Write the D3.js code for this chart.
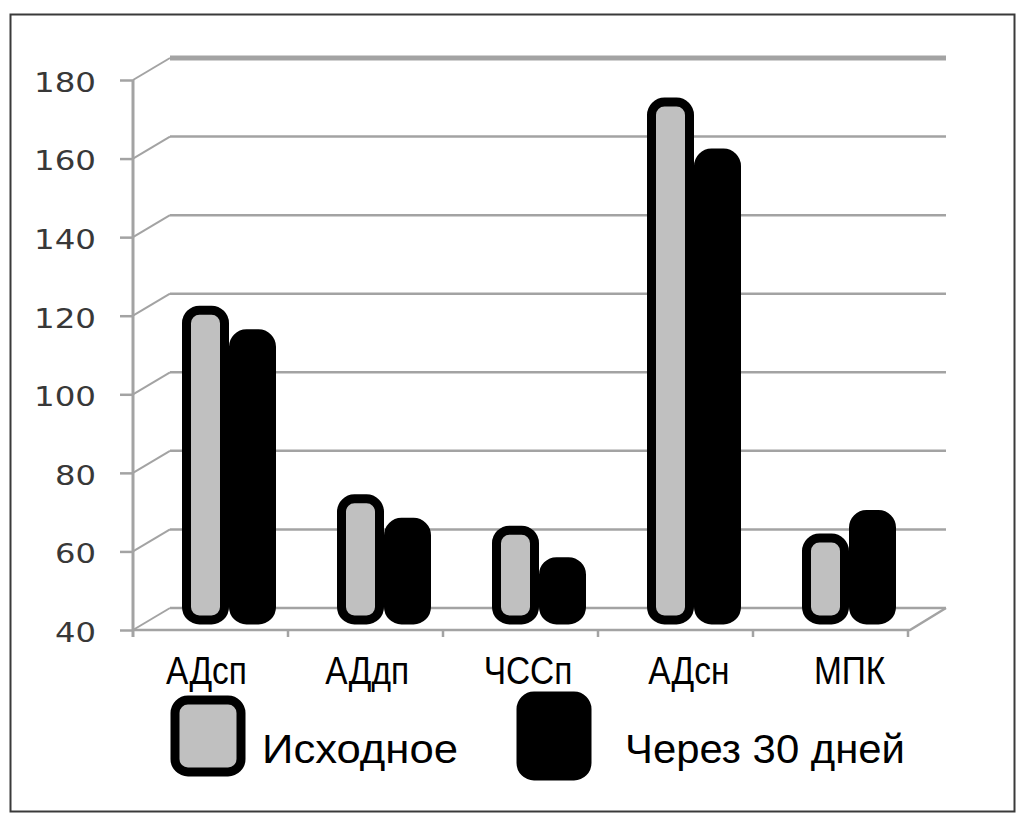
<!DOCTYPE html>
<html>
<head>
<meta charset="utf-8">
<script src="https://cdn.jsdelivr.net/npm/d3@7"></script>
<style>
  html, body { margin: 0; padding: 0; background: #fff; }
  svg { display: block; }
</style>
</head>
<body>
<svg id="chart" width="1026" height="823"></svg>
<script>
// Chart data
const categories = ["АДсп", "АДдп", "ЧССп", "АДсн", "МПК"];
const seriesNames = ["Исходное", "Через 30 дней"];
const initialValues = [120, 72, 64, 173, 62];
const after30Values = [114, 66, 56, 160, 68];
const yTickValues = [40, 60, 80, 100, 120, 140, 160, 180];

const svg = d3.select("#chart");

// Outer frame
svg.append("rect")
  .attr("x", 10.5).attr("y", 14.5)
  .attr("width", 1004).attr("height", 797)
  .attr("fill", "#fff").attr("stroke", "#3a3a3a").attr("stroke-width", 2);

// Geometry of the pseudo-3D plot box
const left = 133, right = 908, floorY = 630, topY = 80;
const depthX = 37, depthY = -22;      // offset of the back wall
const barShiftY = -10;                // bars stand mid-depth

const y = d3.scaleLinear().domain([40, 180]).range([floorY, topY]);
const x = d3.scaleBand().domain(categories).range([left, right]);
const x1 = d3.scaleBand().domain(seriesNames).range([49, 143]);
const xLabel = d3.scaleBand().domain(categories).range([126, 930]);

const gridColor = "#a3a3a3";

// Gridlines: slanted side segment then horizontal back-wall line
const grid = svg.append("g");
yTickValues.forEach(v => {
  const yf = y(v);
  const yb = yf + depthY;
  grid.append("path")
    .attr("d", `M${left},${yf} L${left + depthX},${yb}`)
    .attr("fill", "none").attr("stroke", gridColor).attr("stroke-width", 2);
  grid.append("path")
    .attr("d", `M${left + depthX},${yb} L${right + depthX + 1},${yb}`)
    .attr("fill", "none").attr("stroke", gridColor)
    .attr("stroke-width", v === 180 ? 5 : 2.5);
});

// Floor front edge and right side edge
grid.append("path")
  .attr("d", `M${left},${floorY} L${right + 2},${floorY} L${right + depthX + 1},${floorY + depthY}`)
  .attr("fill", "none").attr("stroke", gridColor).attr("stroke-width", 2.5);

// Category boundary ticks on the floor edge
categories.forEach(c => {
  const bx = x(c) + x.bandwidth();
  grid.append("line")
    .attr("x1", bx).attr("x2", bx)
    .attr("y1", floorY).attr("y2", floorY + 7)
    .attr("stroke", gridColor).attr("stroke-width", 2.5);
});

// Value axis
const yAxis = d3.axisLeft(y).tickValues(yTickValues).tickSize(13).tickPadding(24);
const gy = svg.append("g").attr("transform", `translate(${left},0)`).call(yAxis);
gy.select(".domain").attr("stroke", gridColor).attr("stroke-width", 3).attr("d", `M0,${topY}V${floorY + 7}`);
gy.selectAll(".tick line").attr("stroke", gridColor).attr("stroke-width", 2.5);
gy.selectAll(".tick text")
  .attr("font-family", "DejaVu Sans, Verdana, sans-serif")
  .attr("font-size", 27)
  .attr("fill", "#383838")
  .attr("dy", "0.42em")
  .attr("textLength", d => String(d).length === 3 ? 62 : 41)
  .attr("lengthAdjust", "spacingAndGlyphs");

// Bars
const series = [
  { name: seriesNames[0], values: initialValues, fill: "#c0c0c0" },
  { name: seriesNames[1], values: after30Values, fill: "#000" }
];
const strokeW = 9;
const barsG = svg.append("g");
series.forEach(s => {
  barsG.selectAll(null)
    .data(categories.map((c, i) => ({ c, v: s.values[i] })))
    .join("rect")
    .attr("x", d => x(d.c) + x1(s.name) + strokeW / 2)
    .attr("width", x1.bandwidth() - strokeW)
    .attr("y", d => y(d.v) + barShiftY + strokeW / 2)
    .attr("height", d => y(40) - y(d.v) - strokeW / 2)
    .attr("rx", 13).attr("ry", 13)
    .attr("fill", s.fill)
    .attr("stroke", "#000")
    .attr("stroke-width", strokeW);
});

// Category labels (slightly condensed face)
const xAxis = d3.axisBottom(xLabel).tickSize(0).tickPadding(0);
const gx = svg.append("g").attr("transform", `translate(0,${floorY + 54})`).call(xAxis);
gx.select(".domain").remove();
gx.selectAll(".tick text")
  .attr("font-family", "Liberation Sans, Arial, sans-serif")
  .attr("font-size", 38)
  .attr("fill", "#000")
  .attr("dy", 0)
  .each(function () {
    const w = this.getComputedTextLength();
    d3.select(this).attr("textLength", w * 0.88).attr("lengthAdjust", "spacingAndGlyphs");
  });

// Legend
const legend = svg.append("g");
const legendItems = [
  { name: seriesNames[0], fill: "#c0c0c0", box: [175, 700, 66, 72], tx: 262, len: 196 },
  { name: seriesNames[1], fill: "#000", box: [521, 696, 66, 80], tx: 625, len: 280 }
];
legendItems.forEach(it => {
  legend.append("rect")
    .attr("x", it.box[0]).attr("y", it.box[1])
    .attr("width", it.box[2]).attr("height", it.box[3])
    .attr("rx", 13).attr("ry", 13)
    .attr("fill", it.fill).attr("stroke", "#000").attr("stroke-width", 9);
  legend.append("text")
    .attr("x", it.tx).attr("y", 749)
    .attr("dy", "0.35em")
    .attr("font-family", "Liberation Sans, Arial, sans-serif")
    .attr("font-size", 40)
    .attr("fill", "#000")
    .attr("textLength", it.len)
    .attr("lengthAdjust", "spacingAndGlyphs")
    .text(it.name);
});
</script>
</body>
</html>
